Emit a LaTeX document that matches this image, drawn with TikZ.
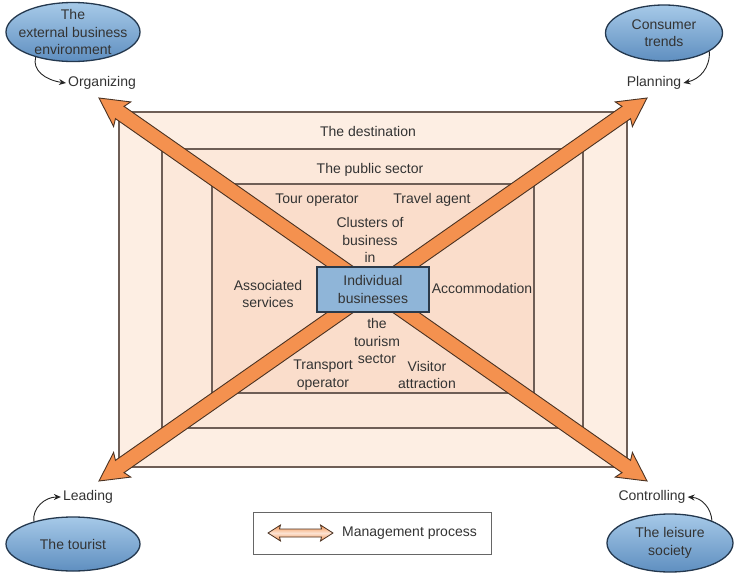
\documentclass[tikz,border=0pt]{standalone}
\usepackage{fontspec}
\setmainfont{Liberation Sans}
\usetikzlibrary{arrows.meta,shapes.geometric}
\definecolor{txt}{HTML}{333333}
\definecolor{outerc}{HTML}{FDEEE3}
\definecolor{midc}{HTML}{FCE8DA}
\definecolor{innerc}{HTML}{FADDCB}
\definecolor{bandline}{HTML}{6E5E56}
\definecolor{arrfill}{HTML}{F4914F}
\definecolor{arrline}{HTML}{4A3222}
\definecolor{boxblue}{HTML}{8FB5D8}
\definecolor{boxline}{HTML}{2B3A4A}
\definecolor{elltop}{HTML}{A6C9E8}
\definecolor{ellbot}{HTML}{5F8FC0}
\definecolor{ellline}{HTML}{24384E}
\tikzset{
  lbl/.style={font=\fontsize{14}{17.5}\selectfont, text=txt, align=center, inner sep=2pt},
  band/.style={draw=bandline, line width=1.1pt},
  bigarrow/.style={fill=arrfill, draw=arrline, line width=0.9pt, line join=miter},
  ellshape/.style={ellipse, draw=ellline, line width=1.3pt, top color=elltop, bottom color=ellbot, inner sep=0pt},
  curv/.style={draw=black!85, line width=0.9pt, -{Stealth[length=7pt,width=6pt]}},
}
\begin{document}
\begin{tikzpicture}[x=1pt,y=-1pt]
\useasboundingbox (0,0) rectangle (737,573);

% nested rectangles
\draw[band, fill=outerc] (119,112) rectangle (627,467);
\draw[band, fill=midc] (162,149) rectangle (583,428);
\draw[band, fill=innerc] (212,184) rectangle (534,393);

% management-process arrows
\begin{scope}[shift={(373,289.5)}, rotate=-34.95]
\draw[bigarrow] (334.3,0) -- (306,15) -- (309,7.5) -- (-309,7.5) -- (-306,15) -- (-334.3,0)
   -- (-306,-15) -- (-309,-7.5) -- (309,-7.5) -- (306,-15) -- cycle;
\end{scope}
\begin{scope}[shift={(373,289.5)}, rotate=34.95]
\draw[bigarrow] (334.3,0) -- (306,15) -- (309,7.5) -- (-309,7.5) -- (-306,15) -- (-334.3,0)
   -- (-306,-15) -- (-309,-7.5) -- (309,-7.5) -- (306,-15) -- cycle;
\end{scope}

% centre box
\node[lbl, draw=boxline, line width=1.3pt, fill=boxblue, minimum width=112pt, minimum height=45pt] (core) at (373,289.5) {Individual\\businesses};

% band labels
\node[lbl] (dest) at (368,131) {The destination};
\node[lbl] (pub) at (370,170) {The public sector};
\node[lbl] (tour) at (317,200) {Tour operator};
\node[lbl] (trav) at (432,200) {Travel agent};
\node[lbl] (clus) at (370,240) {Clusters of\\business\\in};
\node[lbl] (assoc) at (268,294) {Associated\\services};
\node[lbl] (acc) at (482,288) {Accommodation};
\node[lbl] (sect) at (377,341) {the\\tourism\\sector};
\node[lbl] (trans) at (323,375) {Transport\\operator};
\node[lbl] (visit) at (427,375) {Visitor\\attraction};

% corner labels
\node[lbl] (org) at (102,83) {Organizing};
\node[lbl] (plan) at (654,83) {Planning};
\node[lbl] (lead) at (88,497) {Leading};
\node[lbl] (ctrl) at (652,497) {Controlling};

% ellipses
\node[ellshape, minimum width=134pt, minimum height=59pt] (envE) at (73,32) {};
\node[lbl] (envT) at (envE) {The\\external business\\environment};
\node[ellshape, minimum width=117pt, minimum height=56pt] (consE) at (664,33) {};
\node[lbl] (consT) at (consE) {Consumer\\trends};
\node[ellshape, minimum width=134pt, minimum height=54pt] (tourE) at (73,544) {};
\node[lbl] (tourT) at (tourE) {The tourist};
\node[ellshape, minimum width=126pt, minimum height=58pt] (leisE) at (670,543) {};
\node[lbl] (leisT) at (leisE) {The leisure\\society};

% curved arrows
\draw[curv] (envE.214) .. controls (32,70) and (45,80) .. (org.west);
\draw[curv] (consE.-22) .. controls (710,68) and (700,79) .. (plan.east);
\draw[curv] (tourE.150) .. controls (32,508) and (45,497) .. (lead.west);
\draw[curv] (leisE.28) .. controls (711,508) and (702,498) .. (ctrl.east);

% legend
\node[draw=black!60, line width=0.9pt, fill=white, minimum width=238pt, minimum height=42pt] (legend) at (372,533) {};
\begin{scope}[shift={(300.5,533)}]
\shade[top color=arrfill, bottom color=arrfill, middle color=arrfill!25, draw=arrline, line width=0.8pt]
  (32.5,0) -- (20,8) -- (21,4) -- (-21,4) -- (-20,8) -- (-32.5,0) -- (-20,-8) -- (-21,-4) -- (21,-4) -- (20,-8) -- cycle;
\end{scope}
\node[lbl, anchor=west] (legT) at (340,533) {Management process};
\end{tikzpicture}
\end{document}
